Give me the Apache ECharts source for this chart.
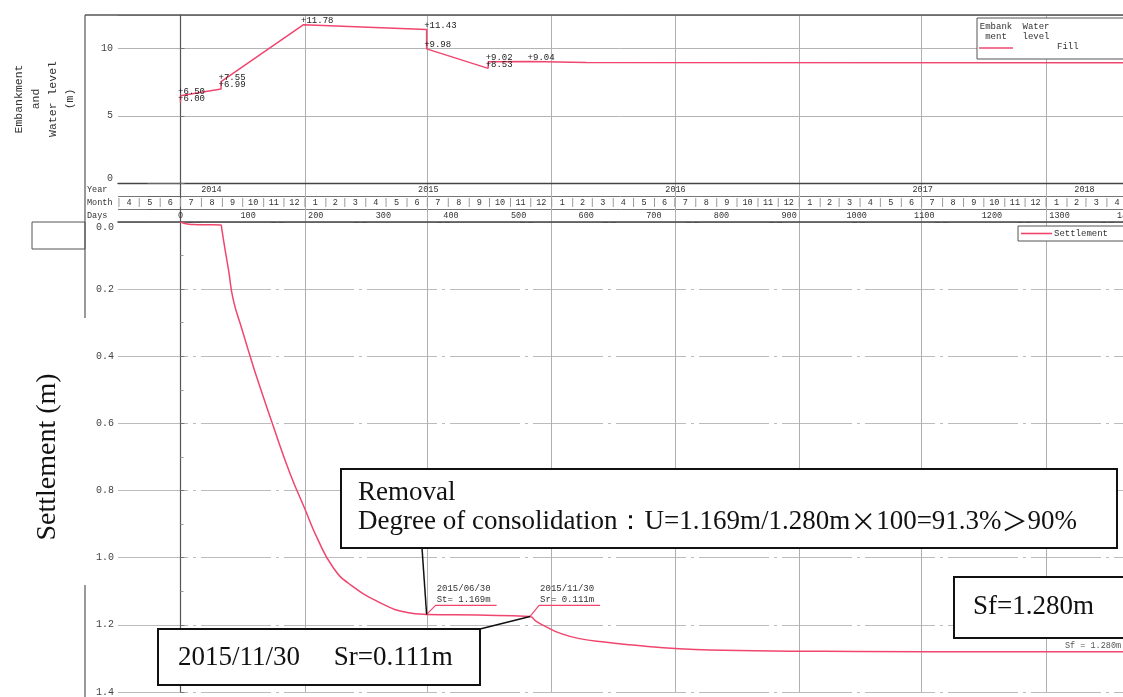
<!DOCTYPE html>
<html>
<head>
<meta charset="utf-8">
<script src="https://cdn.jsdelivr.net/npm/echarts@6/dist/echarts.min.js"></script>
<style>
  html, body { margin: 0; padding: 0; background: #fff; }
  #chart { width: 1123px; height: 697px; }
</style>
</head>
<body>
<div id="chart"></div>
<script>
// Elapsed days are counted from 2014-07-01 (day 0).
const ORIGIN = Date.UTC(2014, 6, 1);
const DAY_MIN = -92.4;
const DAY_MAX = 1393.8;

// Embankment fill height (m)
const fillDays   = [0, 0, 60, 60, 182, 364, 364, 455, 455, 517, 600, 1394];
const fillLevels = [6.00, 6.50, 6.99, 7.55, 11.78, 11.43, 9.98, 8.53, 9.02, 9.04, 8.97, 8.95];
const fillLabelCount = 10;   // the first points carry a value tag

// Measured settlement (m)
const settleDays   = [0, 10, 25, 60, 61, 66, 71, 78, 91, 103, 115, 137, 162, 184, 202, 226, 251, 300, 335, 364, 440, 517, 525, 541, 560, 590, 630, 664, 738, 850, 1000, 1200, 1394];
const settleValues = [0, 0.006, 0.008, 0.009, 0.02, 0.083, 0.142, 0.231, 0.320, 0.400, 0.476, 0.607, 0.749, 0.855, 0.941, 1.030, 1.080, 1.139, 1.163, 1.169, 1.171, 1.175, 1.188, 1.206, 1.224, 1.241, 1.252, 1.259, 1.271, 1.277, 1.279, 1.280, 1.280];

// Key dates and values
const removalDay = 364;        // 2015/06/30
const removalDate = '2015/06/30';
const residualDay = 517;       // 2015/11/30
const residualDate = '2015/11/30';
const finalSettlement = 1.280; // Sf

// Header table labels
const headerRows = ['Days', 'Month', 'Year'];
const yearLabels = ['2014', '2015', '2016', '2017', '2018'];
const dayTicks = [0, 100, 200, 300, 400, 500, 600, 700, 800, 900, 1000, 1100, 1200, 1300, 1400];

const PINK = '#f0466e';
const MONO = '"Liberation Mono", "DejaVu Sans Mono", monospace';
const SERIF = '"Liberation Serif", "Noto Serif", serif';
const CJK = '"Noto Sans CJK JP", "Noto Sans CJK SC", sans-serif';

function dayOf(y, m) { return (Date.UTC(y, m - 1, 1) - ORIGIN) / 86400000; }

// Month cells from April 2014 onwards
const headerItems = [];
for (let y = 2014, m = 4; y < 2018 || m <= 5; ) {
  const ny = m === 12 ? y + 1 : y, nm = m === 12 ? 1 : m + 1;
  headerItems.push({ kind: 'month', start: dayOf(y, m), end: dayOf(ny, nm), row: 1, text: String(m) });
  y = ny; m = nm;
}
yearLabels.forEach(function (yl) {
  const y = +yl;
  headerItems.push({ kind: 'year', start: dayOf(y, 1), end: dayOf(y + 1, 1), row: 2, text: yl });
});
dayTicks.forEach(function (d) {
  headerItems.push({ kind: 'day', start: d, end: d, row: 0, text: String(d) });
});

// Half-year grid lines (1 Jan and 1 Jul)
const gridDays = [];
for (let y = 2014; y <= 2018; y++) {
  [1, 7].forEach(function (m) {
    const d = dayOf(y, m);
    if (d >= 0 && d <= DAY_MAX) gridDays.push(d);
  });
}

function renderHeader(params, api) {
  const it = headerItems[params.dataIndex];
  const rowH = api.size([0, 1])[1];
  const cy = api.coord([0, it.row])[1];
  const base = { fontFamily: MONO, fontSize: 8.5, fill: '#333', align: 'center', verticalAlign: 'middle' };
  const children = [];
  if (it.kind === 'day') {
    const x = api.coord([it.start, it.row])[0];
    children.push({ type: 'text', x: x, y: cy, style: Object.assign({ text: it.text }, base) });
  } else {
    const s = it.kind === 'year' ? Math.max(it.start, DAY_MIN) : it.start;
    const e = it.kind === 'year' ? Math.min(it.end, DAY_MAX) : it.end;
    const x0 = api.coord([s, it.row])[0];
    const x1 = api.coord([e, it.row])[0];
    children.push({ type: 'text', x: (x0 + x1) / 2, y: cy, style: Object.assign({ text: it.text }, base) });
    if (it.kind === 'month' && it.start > DAY_MIN) {
      children.push({ type: 'line', shape: { x1: x0, y1: cy - rowH / 2 + 2, x2: x0, y2: cy + rowH / 2 - 2 },
        style: { stroke: '#999', lineWidth: 1 } });
    }
  }
  return { type: 'group', children: children };
}

const vGrid = { show: true, lineStyle: { color: '#b0b0b0', width: 1 } };

function xAxisFor(gridIndex, extra) {
  return Object.assign({
    gridIndex: gridIndex, type: 'value', min: DAY_MIN, max: DAY_MAX,
    axisLine: { show: false },
    axisTick: { show: false, customValues: gridDays },
    axisLabel: { show: false },
    splitLine: vGrid
  }, extra || {});
}

const fillData = fillDays.map(function (d, i) {
  const item = { value: [d, fillLevels[i]] };
  if (i < fillLabelCount) item.label = { show: true };
  return item;
});
const settleData = settleDays.map(function (d, i) { return [d, settleValues[i]]; });

const option = {
  animation: false,
  backgroundColor: '#fff',
  grid: [
    { left: 118, right: 0, top: 15, height: 168 },
    { left: 118, right: 0, top: 183, height: 39 },
    { left: 118, right: 0, top: 222, height: 473 }
  ],
  xAxis: [
    xAxisFor(0, { axisLine: { show: true, lineStyle: { color: '#444', width: 1.3 } } }),
    xAxisFor(1, { axisLine: { show: true, lineStyle: { color: '#444', width: 1.6 } } }),
    xAxisFor(2)
  ],
  yAxis: [
    {
      gridIndex: 0, type: 'value', min: 0, max: 12.5, interval: 5,
      axisLine: { show: true, lineStyle: { color: '#555', width: 1.2 } },
      axisTick: { show: true, inside: true, length: 4, lineStyle: { color: '#777' } },
      axisLabel: {
        showMaxLabel: false, margin: 5, fontSize: 10, color: '#444', fontFamily: MONO,
        formatter: function (v) { return v === 0 ? '{lo|0}' : String(v); },
        rich: { lo: { padding: [0, 0, 9, 0], fontSize: 10, color: '#444', fontFamily: MONO } }
      },
      splitLine: { show: true, lineStyle: { color: '#b4b4b4', width: 1 } },
      name: 'Embankment\nand\nWater level\n(m)',
      nameLocation: 'middle', nameRotate: 90, nameGap: 40,
      nameTextStyle: { fontFamily: MONO, fontSize: 11.5, lineHeight: 17, color: '#333' }
    },
    {
      gridIndex: 1, type: 'category', data: headerRows, boundaryGap: true,
      axisLine: { show: true, lineStyle: { color: '#555', width: 1.2 } },
      axisTick: { show: true, length: 33, interval: 0, lineStyle: { color: '#666' } },
      axisLabel: { interval: 0, align: 'left', margin: 31, fontSize: 8.5, fontFamily: MONO, color: '#333' },
      splitLine: { show: true, interval: 0, lineStyle: { color: '#777', width: 1 } }
    },
    {
      gridIndex: 2, type: 'value', inverse: true, min: 0, max: 1.4, interval: 0.2,
      axisLine: { show: true, lineStyle: { color: '#555', width: 1.2 } },
      axisTick: { show: true, inside: true, length: 4, lineStyle: { color: '#777' } },
      minorTick: { show: true, splitNumber: 2, length: 3, lineStyle: { color: '#999' } },
      axisLabel: {
        margin: 4, fontSize: 10, color: '#444', fontFamily: MONO,
        formatter: function (v) { return v === 0 ? '{lo|0.0}' : v.toFixed(1); },
        rich: { lo: { padding: [11, 0, 0, 0], fontSize: 10, color: '#444', fontFamily: MONO } }
      },
      splitLine: { show: true, lineStyle: { color: '#bcbcbc', width: 1, type: [70, 5, 3, 5] } },
      name: 'Settlement (m)',
      nameLocation: 'middle', nameRotate: 90, nameGap: 56,
      nameTextStyle: { fontFamily: SERIF, fontSize: 28, color: '#111' }
    }
  ],
  legend: {
    data: ['Settlement'], left: 1018, top: 226, padding: [3, 20, 3, 3],
    borderColor: '#555', borderWidth: 1, backgroundColor: '#fff',
    icon: 'rect', itemWidth: 31, itemHeight: 1.6,
    textStyle: { fontFamily: MONO, fontSize: 9, color: '#333', padding: [0, 0, 0, -3] }
  },
  series: [
    {
      name: 'Fill', type: 'line', xAxisIndex: 0, yAxisIndex: 0,
      data: fillData,
      symbol: 'circle', symbolSize: 1,
      itemStyle: { color: 'rgba(0,0,0,0)' },
      lineStyle: { color: PINK, width: 1.5 },
      label: {
        show: false, position: 'right', distance: 0, offset: [-3, -4],
        fontFamily: MONO, fontSize: 9, color: '#222',
        formatter: function (p) { return '+' + p.value[1].toFixed(2); }
      },
      silent: true, z: 5
    },
    {
      name: 'Settlement', type: 'line', xAxisIndex: 2, yAxisIndex: 2,
      data: settleData, smooth: 0.5, symbol: 'none',
      itemStyle: { color: PINK },
      lineStyle: { color: PINK, width: 1.5 },
      silent: true, z: 5
    },
    {
      name: 'header', type: 'custom', xAxisIndex: 1, yAxisIndex: 1,
      data: headerItems.map(function (h) { return [h.start, h.end, h.row]; }),
      encode: { x: [0, 1], y: 2 },
      renderItem: renderHeader, silent: true, z: 3
    }
  ]
};

const chart = echarts.init(document.getElementById('chart'), null, { renderer: 'canvas' });
chart.setOption(option);

// Callouts anchored on the settlement curve
function settleAt(day) { return settleValues[settleDays.indexOf(day)]; }
const stVal = settleAt(removalDay);
const A = chart.convertToPixel({ seriesIndex: 1 }, [removalDay, stVal]);
const B = chart.convertToPixel({ seriesIndex: 1 }, [residualDay, settleAt(residualDay)]);
const F = chart.convertToPixel({ seriesIndex: 1 }, [DAY_MAX, finalSettlement]);
const residual = finalSettlement - stVal;
const degree = (stVal / finalSettlement * 100).toFixed(1);

const line = function (x1, y1, x2, y2, stroke, w) {
  return { type: 'line', shape: { x1: x1, y1: y1, x2: x2, y2: y2 }, style: { stroke: stroke, lineWidth: w }, silent: true };
};
const smallText = { fontFamily: MONO, fontSize: 9, fill: '#333' };
const bigText = { fontFamily: SERIF, fontSize: 27, fill: '#111' };

chart.setOption({
  graphic: [
    // outer frame pieces
    line(85, 15, 1123, 15, '#555', 1.3),
    line(85, 15, 85, 318, '#555', 1.2),
    line(85, 585, 85, 697, '#555', 1.2),
    { type: 'rect', shape: { x: 32, y: 222, width: 53, height: 27 }, style: { fill: 'none', stroke: '#555', lineWidth: 1 }, silent: true },

    // fill legend
    { type: 'rect', shape: { x: 977, y: 18, width: 160, height: 41 }, style: { fill: '#fff', stroke: '#555', lineWidth: 1 }, silent: true, z: 10 },
    { type: 'text', x: 996, y: 32, style: Object.assign({ text: 'Embank\nment', align: 'center', verticalAlign: 'middle', lineHeight: 10 }, smallText), silent: true, z: 11 },
    { type: 'text', x: 1036, y: 32, style: Object.assign({ text: 'Water\nlevel', align: 'center', verticalAlign: 'middle', lineHeight: 10 }, smallText), silent: true, z: 11 },
    Object.assign(line(979, 48, 1013, 48, PINK, 1.6), { z: 11 }),
    { type: 'text', x: 1057, y: 47, style: Object.assign({ text: 'Fill', verticalAlign: 'middle' }, smallText), silent: true, z: 11 },

    // removal date callout
    { type: 'polyline', shape: { points: [[A[0], A[1]], [A[0] + 9, A[1] - 9], [A[0] + 70, A[1] - 9]] }, style: { stroke: PINK, fill: null, lineWidth: 1.2 }, silent: true, z: 10 },
    { type: 'text', x: A[0] + 10, y: A[1] - 31, style: Object.assign({ text: removalDate + '\nSt= ' + stVal.toFixed(3) + 'm', lineHeight: 11 }, smallText), silent: true, z: 11 },
    // residual date callout
    { type: 'polyline', shape: { points: [[B[0], B[1]], [B[0] + 9, B[1] - 11], [B[0] + 70, B[1] - 11]] }, style: { stroke: PINK, fill: null, lineWidth: 1.2 }, silent: true, z: 10 },
    { type: 'text', x: B[0] + 10, y: B[1] - 33, style: Object.assign({ text: residualDate + '\nSr= ' + residual.toFixed(3) + 'm', lineHeight: 11 }, smallText), silent: true, z: 11 },

    // final settlement tag
    { type: 'text', x: 1065, y: F[1] - 6, style: { text: 'Sf = ' + finalSettlement.toFixed(3) + 'm', fontFamily: MONO, fontSize: 8.5, fill: '#555', verticalAlign: 'middle' }, silent: true, z: 11 },

    // removal box
    Object.assign(line(422, 548, A[0], A[1], '#111', 1.5), { z: 12 }),
    { type: 'rect', shape: { x: 341, y: 469, width: 776, height: 79 }, style: { fill: '#fff', stroke: '#111', lineWidth: 2 }, silent: true, z: 12 },
    { type: 'text', x: 358, y: 478, silent: true, z: 13, style: Object.assign({
        text: 'Removal\nDegree of consolidation：U=' + stVal.toFixed(3) + 'm/' + finalSettlement.toFixed(3) + 'm{w|×}100=' + degree + '%{w|＞}90%',
        lineHeight: 29,
        rich: { w: { fontFamily: CJK, fontSize: 26, fill: '#111', lineHeight: 29 } }
      }, bigText) },

    // residual settlement box
    Object.assign(line(480, 629, B[0], B[1], '#111', 1.5), { z: 12 }),
    { type: 'rect', shape: { x: 158, y: 629, width: 322, height: 56 }, style: { fill: '#fff', stroke: '#111', lineWidth: 2 }, silent: true, z: 12 },
    { type: 'text', x: 178, y: 658, style: Object.assign({ text: residualDate + '     Sr=' + residual.toFixed(3) + 'm', verticalAlign: 'middle' }, bigText), silent: true, z: 13 },

    // final settlement box
    { type: 'rect', shape: { x: 954, y: 577, width: 200, height: 61 }, style: { fill: '#fff', stroke: '#111', lineWidth: 2 }, silent: true, z: 12 },
    { type: 'text', x: 973, y: 607, style: Object.assign({ text: 'Sf=' + finalSettlement.toFixed(3) + 'm', verticalAlign: 'middle' }, bigText), silent: true, z: 13 }
  ]
});
</script>
</body>
</html>
